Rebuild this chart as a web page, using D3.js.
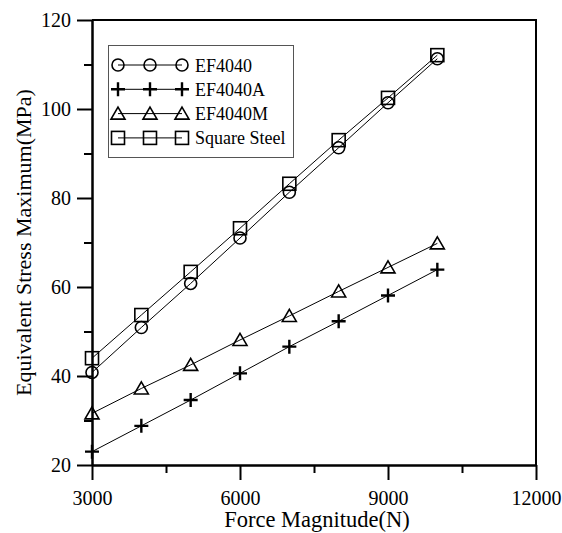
<!DOCTYPE html>
<html>
<head>
<meta charset="utf-8">
<script src="https://cdn.jsdelivr.net/npm/d3@7"></script>
<style>
  body { margin: 0; background: #fff; overflow: hidden; }
  svg { display: block; }
  svg text { font-family: "Liberation Serif", "Times New Roman", serif; fill: #000; }
</style>
</head>
<body>
<div class="plot"></div>
<script>
// DATA
var forces = [3000, 4000, 5000, 6000, 7000, 8000, 9000, 10000];
var ef4040 = [40.8, 50.9, 60.8, 71.0, 81.3, 91.3, 101.4, 111.3];
var ef4040A = [23.0, 28.8, 34.6, 40.6, 46.6, 52.3, 58.1, 63.9];
var ef4040M = [31.6, 37.2, 42.5, 48.1, 53.5, 59.0, 64.4, 69.8];
var squareSteel = [44.0, 53.7, 63.4, 73.2, 83.2, 93.0, 102.5, 112.1];
var seriesNames = ["EF4040", "EF4040A", "EF4040M", "Square Steel"];
var seriesMarkers = ["circle", "plus", "triangle", "square"];
var xTicks = [3000, 6000, 9000, 12000];
var xMinor = [4500, 7500, 10500];
var yTicks = [20, 40, 60, 80, 100, 120];
var yMinor = [30, 50, 70, 90, 110];

// GLOBALS
var w = 562;
var h = 533;
var plotLeft = 92, plotTop = 20, plotRight = 536, plotBottom = 465;
var serif = "'Liberation Serif', 'Times New Roman', serif";

var series = [ef4040, ef4040A, ef4040M, squareSteel].map(function (vals, i) {
  return {
    name: seriesNames[i],
    marker: seriesMarkers[i],
    points: vals.map(function (v, j) { return { x: forces[j], y: v }; })
  };
});

var svg = d3.select(".plot").append("svg").attr("width", w).attr("height", h);

// SCALES
var xScale = d3.scaleLinear().domain([3000, 12000]).range([plotLeft, plotRight]);
var yScale = d3.scaleLinear().domain([20, 120]).range([plotBottom, plotTop]);

// draw one marker at (cx, cy)
function drawMarker(g, type, cx, cy) {
  if (type === "circle") {
    g.append("circle").attr("cx", cx).attr("cy", cy).attr("r", 6)
      .attr("fill", "none").attr("stroke", "#000").attr("stroke-width", 1.6);
  } else if (type === "square") {
    g.append("rect").attr("x", cx - 6.5).attr("y", cy - 6.5).attr("width", 13).attr("height", 13)
      .attr("fill", "none").attr("stroke", "#000").attr("stroke-width", 1.6);
  } else if (type === "triangle") {
    g.append("path")
      .attr("d", "M" + cx + "," + (cy - 6.5) + "L" + (cx + 7) + "," + (cy + 5.5) + "L" + (cx - 7) + "," + (cy + 5.5) + "Z")
      .attr("fill", "none").attr("stroke", "#000").attr("stroke-width", 1.6);
  } else if (type === "plus") {
    g.append("path")
      .attr("d", "M" + (cx - 7) + "," + cy + "H" + (cx + 7) + "M" + cx + "," + (cy - 7) + "V" + (cy + 7))
      .attr("fill", "none").attr("stroke", "#000").attr("stroke-width", 2.4);
  }
}

// AXES
var xAxis = d3.axisBottom(xScale).tickValues(xTicks).tickSize(15).tickSizeOuter(0).tickPadding(11)
  .tickFormat(d3.format("d"));
var xAxisMinor = d3.axisBottom(xScale).tickValues(xMinor).tickSize(8).tickSizeOuter(0).tickFormat("");
var yAxis = d3.axisLeft(yScale).tickValues(yTicks).tickSize(15).tickSizeOuter(0).tickPadding(6)
  .tickFormat(d3.format("d"));
var yAxisMinor = d3.axisLeft(yScale).tickValues(yMinor).tickSize(8).tickSizeOuter(0).tickFormat("");

svg.append("g").attr("class", "axis").attr("transform", "translate(0," + plotBottom + ")").call(xAxisMinor);
svg.append("g").attr("class", "axis").attr("transform", "translate(0," + plotBottom + ")").call(xAxis);
svg.append("g").attr("class", "axis").attr("transform", "translate(" + plotLeft + ",0)").call(yAxisMinor);
svg.append("g").attr("class", "axis").attr("transform", "translate(" + plotLeft + ",0)").call(yAxis);

svg.selectAll(".axis path, .axis line").attr("stroke", "#000").attr("stroke-width", 2);
svg.selectAll(".axis text").style("font-size", "20px").style("font-family", serif);

// frame top and right
svg.append("path")
  .attr("d", "M" + plotLeft + "," + plotTop + "H" + plotRight + "V" + plotBottom)
  .attr("fill", "none").attr("stroke", "#000").attr("stroke-width", 2);

// axis titles
svg.append("text")
  .attr("x", (plotLeft + plotRight) / 2 + 3)
  .attr("y", 527)
  .style("font-size", "22.5px")
  .style("font-family", serif)
  .style("text-anchor", "middle")
  .text("Force Magnitude(N)");

svg.append("text")
  .attr("transform", "translate(31," + ((plotTop + plotBottom) / 2) + ") rotate(-90)")
  .style("font-size", "22px")
  .style("font-family", serif)
  .style("text-anchor", "middle")
  .text("Equivalent Stress Maximum(MPa)");

// LINES + MARKERS
var line = d3.line()
  .x(function (d) { return xScale(d.x); })
  .y(function (d) { return yScale(d.y); });

series.forEach(function (s) {
  svg.append("path").datum(s.points)
    .attr("d", line)
    .attr("fill", "none").attr("stroke", "#000").attr("stroke-width", 1);
  var g = svg.append("g");
  s.points.forEach(function (p) {
    drawMarker(g, s.marker, xScale(p.x), yScale(p.y));
  });
});

// LEGEND
var legend = svg.append("g");
legend.append("rect")
  .attr("x", 108.5).attr("y", 45.5).attr("width", 185).attr("height", 112)
  .attr("fill", "#fff").attr("stroke", "#555").attr("stroke-width", 1);

series.forEach(function (s, i) {
  var cy = 65 + i * 24.3;
  legend.append("line")
    .attr("x1", 118).attr("x2", 182).attr("y1", cy).attr("y2", cy)
    .attr("stroke", "#000").attr("stroke-width", 1);
  [118, 150, 182].forEach(function (cx) { drawMarker(legend, s.marker, cx, cy); });
  legend.append("text")
    .attr("x", 195).attr("y", cy + 6.5)
    .style("font-size", "18px")
    .style("font-family", serif)
    .text(s.name);
});
</script>
</body>
</html>
